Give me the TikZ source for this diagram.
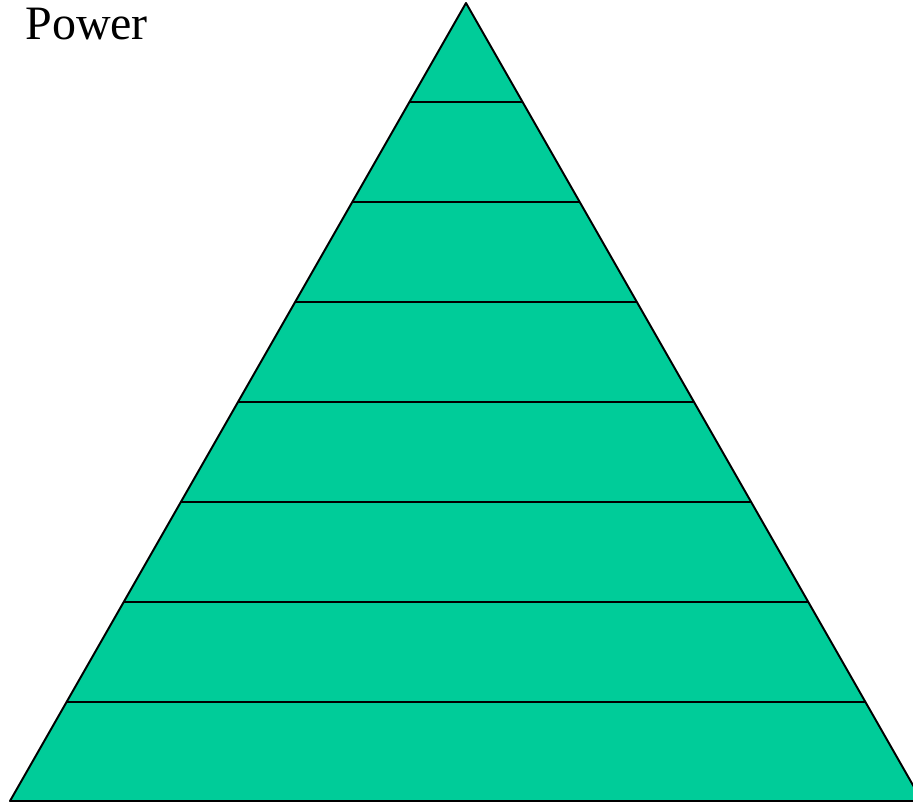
\documentclass[tikz,border=0pt]{standalone}
\usepackage{fontspec}
\setmainfont{Liberation Serif}
\definecolor{pyrgreen}{RGB}{0,204,153}
\tikzset{
  layer/.style={draw=black, line width=1.1pt},
  pyramid/.style={fill=pyrgreen, draw=black, line width=1.1pt, line join=round}
}
\begin{document}
\begin{tikzpicture}[x=0.02cm, y=-0.02cm]
\useasboundingbox (0,0) rectangle (913,803);
% outline of the pyramid (right corner runs off the page)
\coordinate (apex) at (466,3);
\coordinate (bl) at (10,801);
\coordinate (br) at (922,801);
\fill[pyrgreen] (apex) -- (bl) -- (br) -- cycle;
% horizontal layers
\begin{scope}
  \clip (apex) -- (bl) -- (br) -- cycle;
  \foreach \y in {102,202,...,702}
    \draw[layer] (0,\y) -- (930,\y);
\end{scope}
\draw[pyramid, fill=none] (apex) -- (bl) -- (br) -- cycle;
\node[anchor=base west, inner sep=0pt, font=\fontsize{27.3}{32}\selectfont] (title) at (25,40) {Power};
\end{tikzpicture}
\end{document}
